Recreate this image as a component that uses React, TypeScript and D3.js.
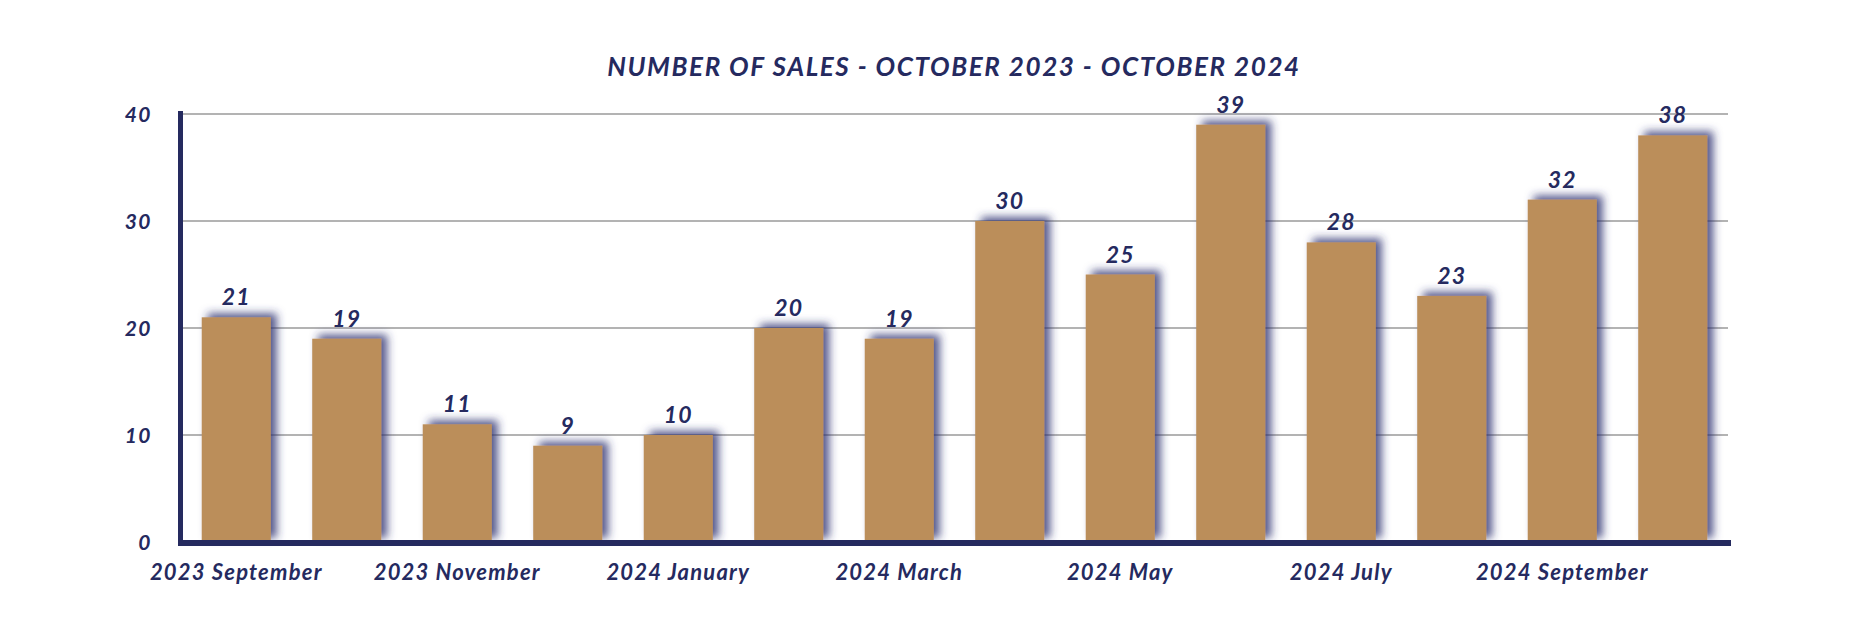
import * as d3 from 'd3';

const months = [
  '2023 September', '2023 October', '2023 November', '2023 December',
  '2024 January', '2024 February', '2024 March', '2024 April',
  '2024 May', '2024 June', '2024 July', '2024 August',
  '2024 September', '2024 October',
];
const sales = [21, 19, 11, 9, 10, 20, 19, 30, 25, 39, 28, 23, 32, 38];
const yTicks = [0, 10, 20, 30, 40];
const title = 'NUMBER OF SALES - OCTOBER 2023 - OCTOBER 2024';

const NAVY = '#252a5f';
const GOLD = '#bb8e5a';
const FONT = 'Lato, "Open Sans", sans-serif';

export default function App() {
  const width = 1858;
  const height = 642;

  const x = d3
    .scaleBand<string>()
    .domain(months)
    .range([181, 1728])
    .paddingInner(0.375)
    .paddingOuter(0.1875);

  const y = d3.scaleLinear().domain([0, 40]).range([542, 114]);

  return (
    <svg
      width={width}
      height={height}
      style={{ position: 'absolute', left: 0, top: 0, background: '#fff' }}
      fontFamily={FONT}
      fontStyle="italic"
      fontWeight={700}
    >
      <defs>
        <filter id="shadow" x="-30%" y="-30%" width="160%" height="160%">
          <feDropShadow dx={6} dy={-4} stdDeviation={4} floodColor="#2b3070" floodOpacity={0.8} />
        </filter>
      </defs>

      {/* title */}
      <text x={954} y={76} textAnchor="middle" fontSize={26} letterSpacing={1.6} fill={NAVY}>
        {title}
      </text>

      {/* gridlines */}
      {yTicks.filter((t) => t > 0).map((t) => (
        <line key={t} x1={183} x2={1728} y1={y(t)} y2={y(t)} stroke="#b3b3b3" strokeWidth={2} />
      ))}

      {/* y tick labels */}
      {yTicks.map((t) => (
        <text
          key={t}
          x={152}
          y={y(t)}
          dy="0.36em"
          textAnchor="end"
          fontSize={21}
          letterSpacing={1.5}
          fill={NAVY}
        >
          {t}
        </text>
      ))}

      {/* bars */}
      <g filter="url(#shadow)">
        {months.map((m, i) => (
          <rect
            key={m}
            x={x(m)}
            y={y(sales[i])}
            width={x.bandwidth()}
            height={y(0) - y(sales[i])}
            fill={GOLD}
          />
        ))}
      </g>

      {/* value labels */}
      {months.map((m, i) => (
        <text
          key={m}
          x={(x(m) ?? 0) + x.bandwidth() / 2}
          y={y(sales[i]) - 12}
          textAnchor="middle"
          fontSize={23}
          letterSpacing={1.2}
          fill={NAVY}
        >
          {sales[i]}
        </text>
      ))}

      {/* axes */}
      <rect x={178} y={111} width={5} height={435} fill={NAVY} />
      <rect x={178} y={540} width={1553} height={6} fill={NAVY} />

      {/* x labels, every other month */}
      {months.map((m, i) =>
        i % 2 === 0 ? (
          <text
            key={m}
            x={(x(m) ?? 0) + x.bandwidth() / 2}
            y={580}
            textAnchor="middle"
            fontSize={22}
            letterSpacing={1.2}
            fill={NAVY}
          >
            {m}
          </text>
        ) : null
      )}
    </svg>
  );
}
